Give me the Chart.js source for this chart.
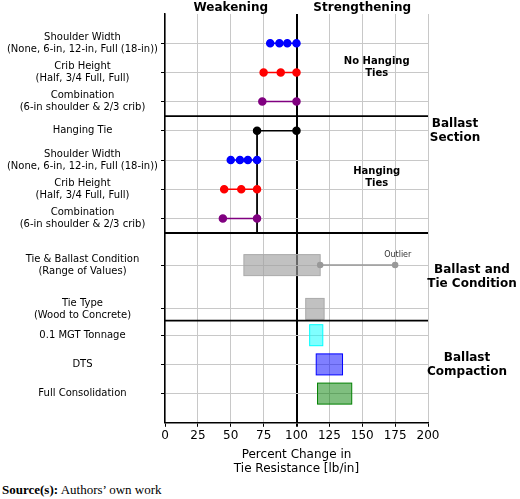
<!DOCTYPE html><html><head><script src="https://cdn.jsdelivr.net/npm/chart.js@4"></script>
<style>body{margin:0;background:#fff}#w{position:relative;width:520px;height:480px}#s{font-family:"Liberation Serif",serif;font-size:13px;margin:2px 0 0 2px}</style></head><body>
<div id="w"><canvas id="c" width="520" height="480"></canvas></div><div id="s"><b>Source(s):</b> Authors’ own work</div>
<script>
const rowPos=[1,2,3,4,5,6,7,8.6,10.1,11,12,13];
const rowLabels=[["Shoulder Width","(None, 6-in, 12-in, Full (18-in))"],["Crib Height","(Half, 3/4 Full, Full)"],["Combination","(6-in shoulder & 2/3 crib)"],"Hanging Tie",["Shoulder Width","(None, 6-in, 12-in, Full (18-in))"],["Crib Height","(Half, 3/4 Full, Full)"],["Combination","(6-in shoulder & 2/3 crib)"],["Tie & Ballast Condition","(Range of Values)"],["Tie Type","(Wood to Concrete)"],"0.1 MGT Tonnage","DTS","Full Consolidation"];
const dotSeries=[
 {row:1,vals:[80,87,93,100],color:"#0000ff"},
 {row:2,vals:[75,88,100],color:"#ff0000"},
 {row:3,vals:[74,100],color:"#800080"},
 {row:4,vals:[70,100],color:"#000000"},
 {row:5,vals:[50,57,63,70],color:"#0000ff"},
 {row:6,vals:[45,58,70],color:"#ff0000"},
 {row:7,vals:[44,70],color:"#800080"}];
const boxRows=[8.6,10.1,11,12,13];
const boxLo=[60,107,110,115,116];
const boxHi=[118,121,120,135,142];
const boxFill=["rgba(160,160,160,0.65)","rgba(160,160,160,0.65)","rgba(0,255,255,0.5)","rgba(0,0,255,0.5)","rgba(0,128,0,0.5)"];
const boxEdge=["#aaa","#aaa","#00ffff","#0000ff","#008000"];
const outlier=[118,175];
const sections=[3.5,7.5,10.5];
const xTicks=[0,25,50,75,100,125,150,175,200];
const ds=dotSeries.map(s=>({type:'line',data:s.vals.map(v=>({x:v,y:s.row})),borderColor:s.color,backgroundColor:s.color,pointRadius:3.5,borderWidth:1.5}));
ds.push({type:'line',data:[{x:70,y:4},{x:70,y:7.5}],borderColor:'#000',pointRadius:0,borderWidth:1.8});
ds.push({type:'line',data:outlier.map(v=>({x:v,y:8.6})),borderColor:'#999',backgroundColor:'#999',pointRadius:2.5,borderWidth:1.5});
const ff='"DejaVu Sans"';
const plug={id:'p',beforeDatasetsDraw(ch){const c=ch.ctx,x=ch.scales.x,y=ch.scales.y;c.save();
 boxRows.forEach((r,i)=>{const x0=x.getPixelForValue(boxLo[i]),x1=x.getPixelForValue(boxHi[i]);const yc=y.getPixelForValue(r);c.fillStyle=boxFill[i];c.strokeStyle=boxEdge[i];c.lineWidth=1;c.fillRect(x0,yc-10.5,x1-x0,21);c.strokeRect(x0,yc-10.5,x1-x0,21);});
 c.restore();},
 afterDraw(ch){const c=ch.ctx,x=ch.scales.x,y=ch.scales.y,a=ch.chartArea;c.save();c.strokeStyle='#000';c.lineWidth=1.8;
 sections.forEach(s=>{const p=y.getPixelForValue(s);c.beginPath();c.moveTo(a.left,p);c.lineTo(a.right,p);c.stroke();});
 c.fillStyle='#000';c.textAlign='center';c.font='bold 12px '+ff;
 c.fillText('Weakening',x.getPixelForValue(50),11);c.fillText('Strengthening',x.getPixelForValue(150),11);
 c.font='bold 10px '+ff;
 c.fillText('No Hanging',x.getPixelForValue(161),64);c.fillText('Ties',x.getPixelForValue(161),76);
 c.fillText('Hanging',x.getPixelForValue(161),174);c.fillText('Ties',x.getPixelForValue(161),186);
 c.font='8px '+ff;c.fillStyle='#333';c.fillText('Outlier',x.getPixelForValue(177),257);
 c.font='bold 12px '+ff;c.fillStyle='#000';
 [[['Ballast','Section'],455,127],[['Ballast and','Tie Condition'],472,273],[['Ballast','Compaction'],467,361]].forEach(([t,cx,cy])=>{c.fillText(t[0],cx,cy);c.fillText(t[1],cx,cy+14);});
 c.restore();}};
new Chart(document.getElementById('c'),{type:'scatter',data:{datasets:ds},plugins:[plug],options:{responsive:false,animation:false,devicePixelRatio:1,
 layout:{padding:{top:14,right:92,left:0,bottom:0}},
 plugins:{legend:{display:false},tooltip:{enabled:false}},
 scales:{x:{min:0,max:200,afterBuildTicks:s=>{s.ticks=xTicks.map(v=>({value:v}));},
  grid:{color:c=>c.tick&&c.tick.value===100?'#000':'#c8c8c8',lineWidth:c=>c.tick&&c.tick.value===100?2:1,drawTicks:true,tickLength:4,tickColor:'#000'},
  border:{color:'#000',width:1.5},ticks:{color:'#000',font:{size:12,family:ff},padding:2,maxRotation:0},
  title:{display:true,text:['Percent Change in','Tie Resistance [lb/in]'],color:'#000',font:{size:12,family:ff},padding:{top:2}}},
 y:{min:0,max:14,reverse:true,afterBuildTicks:s=>{s.ticks=rowPos.map(v=>({value:v}));},afterFit:s=>{s.width=165;},
  grid:{color:'#c8c8c8',tickLength:4,tickColor:'#000'},border:{color:'#000',width:1.5},
  ticks:{color:'#000',font:{size:10,family:ff},padding:3,callback:(v,i)=>rowLabels[i],crossAlign:'center'}}}}});
</script></body></html>
